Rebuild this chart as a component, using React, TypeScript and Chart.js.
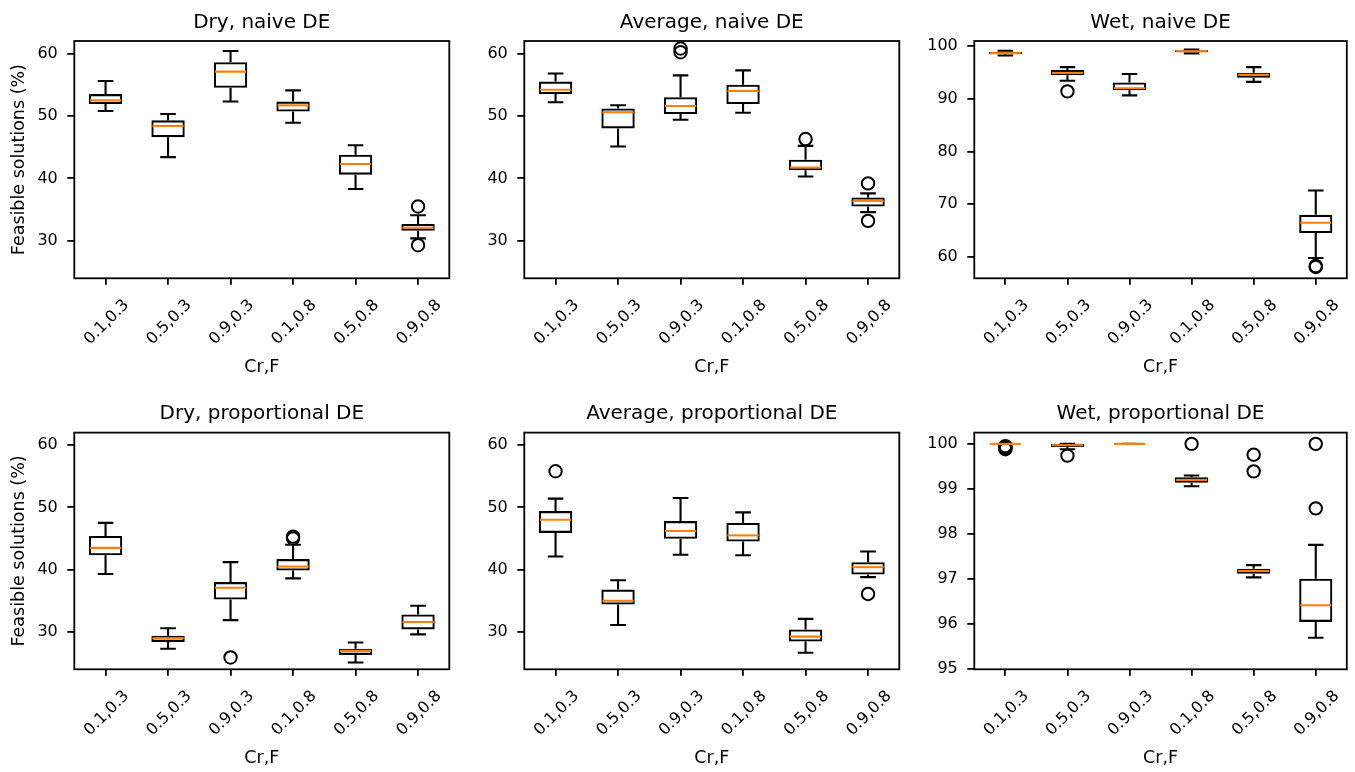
import React, { useEffect, useRef } from 'react';
import { Chart, registerables } from 'chart.js';

Chart.register(...registerables);

// ---------- data ----------
const categories = ['0.1,0.3', '0.5,0.3', '0.9,0.3', '0.1,0.8', '0.5,0.8', '0.9,0.8'];
const xAxisLabel = 'Cr,F';
const yAxisLabel = 'Feasible solutions (%)';

// each row: [lower whisker, Q1, median, Q3, upper whisker]
const dryNaive = [
  [50.8, 51.9, 52.5, 53.5, 55.6],
  [43.4, 46.6, 48.4, 49.3, 50.3],
  [52.3, 54.5, 57.1, 58.6, 60.4],
  [48.9, 50.7, 51.7, 52.3, 54.1],
  [38.3, 40.6, 42.3, 43.8, 45.3],
  [30.4, 31.6, 32.1, 32.7, 34.1],
];
const dryNaiveOutliers = [[], [], [], [], [], [35.5, 29.3]];

const avgNaive = [
  [52.2, 53.5, 54.2, 55.5, 56.8],
  [45.1, 48.0, 50.6, 51.2, 51.7],
  [49.4, 50.3, 51.6, 53.0, 56.5],
  [50.5, 51.9, 54.0, 55.0, 57.3],
  [40.3, 41.3, 41.75, 43.0, 45.2],
  [34.6, 35.5, 36.4, 36.95, 37.6],
];
const avgNaiveOutliers = [[], [], [60.8, 60.2], [], [46.3], [39.2, 33.2]];

const wetNaive = [
  [98.2, 98.45, 98.65, 98.9, 99.1],
  [93.4, 94.45, 94.9, 95.45, 96.0],
  [90.65, 91.6, 92.0, 93.1, 94.7],
  [98.6, 98.8, 99.0, 99.2, 99.35],
  [93.2, 94.0, 94.55, 94.95, 96.0],
  [59.8, 64.55, 66.5, 68.0, 72.6],
];
const wetNaiveOutliers = [[], [91.4], [], [], [], [58.3, 58.1]];

const dryProp = [
  [39.3, 42.3, 43.5, 45.4, 47.5],
  [27.3, 28.4, 29.0, 29.4, 30.6],
  [31.9, 35.2, 37.1, 38.0, 41.2],
  [38.6, 39.85, 40.5, 41.7, 44.0],
  [25.1, 26.3, 26.95, 27.3, 28.3],
  [29.6, 30.4, 31.6, 32.8, 34.2],
];
const dryPropOutliers = [[], [], [25.9], [45.3, 45.0], [], []];

const avgProp = [
  [42.1, 45.9, 48.0, 49.4, 51.4],
  [31.1, 34.4, 35.0, 36.8, 38.3],
  [42.4, 44.95, 46.2, 47.8, 51.5],
  [42.3, 44.5, 45.5, 47.5, 49.2],
  [26.65, 28.45, 29.25, 30.4, 32.1],
  [38.8, 39.2, 40.4, 41.2, 42.9],
];
const avgPropOutliers = [[55.8], [], [], [], [], [36.1]];

const wetProp = [
  [100.0, 100.0, 100.0, 100.0, 100.0],
  [99.88, 99.93, 99.97, 100.0, 100.0],
  [100.0, 100.0, 100.0, 100.0, 100.0],
  [99.06, 99.14, 99.2, 99.26, 99.3],
  [97.04, 97.12, 97.18, 97.23, 97.31],
  [95.7, 96.05, 96.42, 97.01, 97.76],
];
const wetPropOutliers = [[99.95, 99.92, 99.9, 99.88], [99.74], [], [100.0], [99.76, 99.39], [100.0, 98.57]];

const dryAvgRange = [24.0, 62.0];
const wetNaiveRange = [55.96, 100.95];
const wetPropRange = [95.0, 100.25];
const dryAvgTicks = [30, 40, 50, 60];
const wetNaiveTicks = [60, 70, 80, 90, 100];
const wetPropTicks = [95, 96, 97, 98, 99, 100];

// ---------- layout ----------
const W = 1355;
const H = 772;
const FONT = "'DejaVu Sans', 'Liberation Sans', sans-serif";
const colLeft = [74.3, 524.3, 974.3];
const axesW = 375;
const rowTop = [41, 432.6];
const rowH = [237.3, 236.7];
const Y_BOX = 60;
const X_BOX = 60;
const TICK_FS = 16;
const LABEL_FS = 17.5;
const TITLE_FS = 20;
const BOX_LW = 2.1;
const AX_LW = 1.8;
const MEDIAN_COLOR = '#ff7f0e';

type PanelDef = {
  title: string;
  stats: number[][];
  outliers: number[][];
  range: number[];
  ticks: number[];
  col: number;
  row: number;
  yLabel: boolean;
};

const panels: PanelDef[] = [
  { title: 'Dry, naive DE', stats: dryNaive, outliers: dryNaiveOutliers, range: dryAvgRange, ticks: dryAvgTicks, col: 0, row: 0, yLabel: true },
  { title: 'Average, naive DE', stats: avgNaive, outliers: avgNaiveOutliers, range: dryAvgRange, ticks: dryAvgTicks, col: 1, row: 0, yLabel: false },
  { title: 'Wet, naive DE', stats: wetNaive, outliers: wetNaiveOutliers, range: wetNaiveRange, ticks: wetNaiveTicks, col: 2, row: 0, yLabel: false },
  { title: 'Dry, proportional DE', stats: dryProp, outliers: dryPropOutliers, range: dryAvgRange, ticks: dryAvgTicks, col: 0, row: 1, yLabel: true },
  { title: 'Average, proportional DE', stats: avgProp, outliers: avgPropOutliers, range: dryAvgRange, ticks: dryAvgTicks, col: 1, row: 1, yLabel: false },
  { title: 'Wet, proportional DE', stats: wetProp, outliers: wetPropOutliers, range: wetPropRange, ticks: wetPropTicks, col: 2, row: 1, yLabel: false },
];

function BoxPanel({ def }: { def: PanelDef }) {
  const ref = useRef<HTMLCanvasElement | null>(null);

  useEffect(() => {
    const canvas = ref.current;
    if (!canvas) return;
    const left = colLeft[def.col];
    const top = rowTop[def.row];
    const h = rowH[def.row];

    const outlierPoints: { x: string; y: number }[] = [];
    def.outliers.forEach((list, i) => list.forEach((v) => outlierPoints.push({ x: categories[i], y: v })));

    const whiskerPlugin = {
      id: 'whiskers',
      afterDatasetDraw(chart: any, args: any) {
        if (args.index !== 0) return;
        const { ctx, scales } = chart;
        const xs = scales.x;
        const ys = scales.y;
        const meta = chart.getDatasetMeta(0);
        ctx.save();
        def.stats.forEach((s, i) => {
          const cx = xs.getPixelForValue(i);
          const bw = meta.data[i].width;
          const half = (bw - BOX_LW) / 2;
          const capHalf = half / 2;
          const yLow = ys.getPixelForValue(s[0]);
          const yQ1 = ys.getPixelForValue(s[1]);
          const yMed = ys.getPixelForValue(s[2]);
          const yQ3 = ys.getPixelForValue(s[3]);
          const yHigh = ys.getPixelForValue(s[4]);
          ctx.strokeStyle = '#000';
          ctx.lineWidth = BOX_LW;
          ctx.beginPath();
          ctx.moveTo(cx, yQ1);
          ctx.lineTo(cx, yLow);
          ctx.moveTo(cx, yQ3);
          ctx.lineTo(cx, yHigh);
          ctx.moveTo(cx - capHalf, yLow);
          ctx.lineTo(cx + capHalf, yLow);
          ctx.moveTo(cx - capHalf, yHigh);
          ctx.lineTo(cx + capHalf, yHigh);
          ctx.stroke();
          ctx.strokeStyle = MEDIAN_COLOR;
          ctx.beginPath();
          ctx.moveTo(cx - half, yMed);
          ctx.lineTo(cx + half, yMed);
          ctx.stroke();
        });
        ctx.restore();
      },
    };

    const textPlugin = {
      id: 'texts',
      afterDraw(chart: any) {
        const { ctx, chartArea: a, scales } = chart;
        const xs = scales.x;
        const cxMid = (a.left + a.right) / 2;
        ctx.save();
        ctx.strokeStyle = '#000';
        ctx.lineWidth = AX_LW;
        ctx.strokeRect(a.left, a.top, a.right - a.left, a.bottom - a.top);
        ctx.fillStyle = '#000';
        ctx.textAlign = 'center';
        ctx.textBaseline = 'alphabetic';
        ctx.font = `${TITLE_FS}px ${FONT}`;
        ctx.fillText(def.title, cxMid, a.top - 13.4);
        ctx.font = `${TICK_FS}px ${FONT}`;
        categories.forEach((c, i) => {
          const px = xs.getPixelForTick(i);
          ctx.save();
          ctx.translate(px, a.bottom + 42.8);
          ctx.rotate(-Math.PI / 4);
          ctx.fillText(c, 0, (0.729 * TICK_FS) / 2);
          ctx.restore();
        });
        ctx.font = `${LABEL_FS}px ${FONT}`;
        ctx.fillText(xAxisLabel, cxMid, a.bottom + 93.3);
        if (def.yLabel) {
          ctx.save();
          ctx.translate(24.3, (a.top + a.bottom) / 2);
          ctx.rotate(-Math.PI / 2);
          ctx.fillText(yAxisLabel, 0, 0);
          ctx.restore();
        }
        ctx.restore();
      },
    };

    const chart = new Chart(canvas, {
      type: 'bar',
      data: {
        labels: categories,
        datasets: [
          {
            type: 'bar',
            data: def.stats.map((s) => [s[1], s[3]]),
            backgroundColor: 'rgba(0,0,0,0)',
            borderColor: '#000',
            borderWidth: BOX_LW,
            borderSkipped: false,
            barPercentage: 0.534,
            categoryPercentage: 1.0,
          } as any,
          {
            type: 'line',
            data: outlierPoints as any,
            showLine: false,
            pointStyle: 'circle',
            pointRadius: 6.2,
            pointBorderWidth: 2,
            pointBackgroundColor: 'rgba(0,0,0,0)',
            pointBorderColor: '#000',
            clip: false,
          } as any,
        ],
      },
      options: {
        responsive: false,
        animation: false,
        devicePixelRatio: 1,
        events: [],
        layout: {
          padding: {
            left: left - Y_BOX,
            right: W - (left + axesW),
            top: top,
            bottom: H - (top + h) - X_BOX,
          },
        },
        plugins: {
          legend: { display: false },
          tooltip: { enabled: false },
          title: { display: false },
        },
        scales: {
          x: {
            type: 'category',
            offset: true,
            border: { display: false },
            grid: {
              display: true,
              offset: false,
              drawOnChartArea: false,
              drawTicks: true,
              tickLength: 6.5,
              color: '#000',
              lineWidth: AX_LW,
            },
            ticks: { display: false },
            afterFit: (s: any) => {
              s.height = X_BOX;
            },
          },
          y: {
            type: 'linear',
            min: def.range[0],
            max: def.range[1],
            border: { display: false },
            grid: {
              display: true,
              drawOnChartArea: false,
              drawTicks: true,
              tickLength: 7,
              color: '#000',
              lineWidth: AX_LW,
            },
            ticks: {
              color: '#000',
              padding: 9.5,
              font: { family: FONT, size: TICK_FS },
            },
            afterBuildTicks: (s: any) => {
              s.ticks = def.ticks.map((v) => ({ value: v }));
            },
            afterFit: (s: any) => {
              s.width = Y_BOX;
            },
          },
        },
      } as any,
      plugins: [whiskerPlugin, textPlugin],
    });

    return () => chart.destroy();
  }, [def]);

  return (
    <canvas
      ref={ref}
      width={W}
      height={H}
      style={{ position: 'absolute', left: 0, top: 0, width: W, height: H }}
    />
  );
}

export default function App() {
  return (
    <div style={{ position: 'fixed', left: 0, top: 0, width: W, height: H, background: '#fff', overflow: 'hidden' }}>
      {panels.map((p) => (
        <BoxPanel key={p.title} def={p} />
      ))}
    </div>
  );
}
